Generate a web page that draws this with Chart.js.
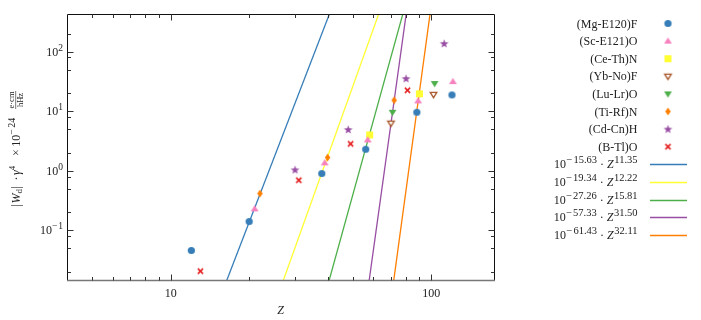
<!DOCTYPE html>
<html><head><meta charset="utf-8">
<script src="https://cdn.jsdelivr.net/npm/chart.js@4.4.1/dist/chart.umd.min.js"></script>
<style>html,body{margin:0;padding:0;background:#fff;}canvas{display:block;}</style>
</head><body>
<canvas id="c" width="701" height="320"></canvas>
<script>
// ---------------- data ----------------
const seriesNames = ['(Mg-E120)F','(Sc-E121)O','(Ce-Th)N','(Yb-No)F','(Lu-Lr)O','(Ti-Rf)N','(Cd-Cn)H','(B-Tl)O'];
const Z_MgF = [12, 20, 38, 56, 88, 120];
const W_MgF = [0.046, 0.141, 0.90, 2.30, 9.6, 18.8];
const Z_ScO = [21, 39, 57, 89, 121];
const W_ScO = [0.23, 1.36, 3.3, 14.9, 31.5];
const Z_CeN = [58, 90];
const W_CeN = [4.0, 19.6];
const Z_YbF = [70, 102];
const W_YbF = [6.3, 19.1];
const Z_LuO = [71, 103];
const W_LuO = [9.6, 29.2];
const Z_TiN = [22, 40, 72];
const W_TiN = [0.416, 1.67, 15.3];
const Z_CdH = [30, 48, 80, 112];
const W_CdH = [1.04, 4.93, 35.4, 137];
const Z_BO = [13, 31, 49, 81];
const W_BO = [0.0207, 0.695, 2.84, 22.5];

// fit lines: W = 10^a * Z^b
const fitLogPrefactor = [-15.63, -19.34, -27.26, -57.33, -61.43];
const fitExponent = [11.35, 12.22, 15.81, 31.50, 32.11];
const fitA_labels = ['15.63','19.34','27.26','57.33','61.43'];
const fitB_labels = ['11.35','12.22','15.81','31.50','32.11'];

// axes
const xRange = [4, 174];
const yRange = [0.0147, 429];
const xMajorTicks = [10, 100];
const xMajorLabels = ['10', '100'];
const xMinorTicks = [5, 6, 7, 8, 9, 20, 30, 40, 50, 60, 70, 80, 90];
const yMajorTicks = [0.1, 1, 10, 100];
const yMajorExps = ['−1', '0', '1', '2'];
const yMinorTicks = [0.02, 0.05, 0.08, 0.2, 0.5, 0.8, 2, 5, 8, 20, 50, 80, 200];

// ---------------- styles ----------------
const markerColors = ['#377eb8','#f781bf','#ffff33','#a65628','#4daf4a','#ff7f00','#984ea3','#e41a1c'];
const markerKinds = ['circle','triUp','square','triDownOpen','triDown','thinDiamond','star','cross'];
const lineColors = ['#377eb8','#ffff33','#4daf4a','#984ea3','#ff7f00'];

function makeMarker(kind, color) {
  const S = 15, c = document.createElement('canvas');
  c.width = S; c.height = S;
  const g = c.getContext('2d');
  const m = S / 2;
  g.fillStyle = color; g.strokeStyle = color;
  g.beginPath();
  if (kind === 'circle') {
    g.arc(m, m, 3.6, 0, Math.PI * 2); g.fill();
  } else if (kind === 'triUp') {
    g.moveTo(m, m - 3.8); g.lineTo(m + 3.9, m + 2.6); g.lineTo(m - 3.9, m + 2.6); g.closePath(); g.fill();
  } else if (kind === 'triDown') {
    g.moveTo(m, m + 3.8); g.lineTo(m + 3.9, m - 2.6); g.lineTo(m - 3.9, m - 2.6); g.closePath(); g.fill();
  } else if (kind === 'triDownOpen') {
    g.moveTo(m, m + 3.2); g.lineTo(m + 3.3, m - 2.2); g.lineTo(m - 3.3, m - 2.2); g.closePath();
    g.fillStyle = '#fff'; g.fill(); g.lineWidth = 1.3; g.stroke();
  } else if (kind === 'square') {
    g.rect(m - 3.5, m - 3.5, 7, 7); g.fill();
  } else if (kind === 'thinDiamond') {
    g.moveTo(m, m - 4); g.lineTo(m + 2.7, m); g.lineTo(m, m + 4); g.lineTo(m - 2.7, m); g.closePath(); g.fill();
  } else if (kind === 'star') {
    for (let i = 0; i < 10; i++) {
      const r = i % 2 === 0 ? 4.6 : 1.9;
      const a = -Math.PI / 2 + i * Math.PI / 5;
      const px = m + r * Math.cos(a), py = m + 0.4 + r * Math.sin(a);
      if (i === 0) g.moveTo(px, py); else g.lineTo(px, py);
    }
    g.closePath(); g.fill();
  } else if (kind === 'cross') {
    g.lineWidth = 1.5;
    g.moveTo(m - 2.6, m - 2.6); g.lineTo(m + 2.6, m + 2.6);
    g.moveTo(m + 2.6, m - 2.6); g.lineTo(m - 2.6, m + 2.6); g.stroke();
  }
  return c;
}
const markers = markerKinds.map((k, i) => makeMarker(k, markerColors[i]));

const Zs = [Z_MgF, Z_ScO, Z_CeN, Z_YbF, Z_LuO, Z_TiN, Z_CdH, Z_BO];
const Ws = [W_MgF, W_ScO, W_CeN, W_YbF, W_LuO, W_TiN, W_CdH, W_BO];

const datasets = [];
seriesNames.forEach((name, i) => {
  datasets.push({
    label: name,
    data: Zs[i].map((z, j) => ({ x: z, y: Ws[i][j] })),
    pointStyle: markers[i],
    pointRadius: 5,
    showLine: false
  });
});
fitExponent.forEach((b, i) => {
  const a = fitLogPrefactor[i];
  datasets.push({
    label: 'fit' + i,
    data: xRange.map(z => ({ x: z, y: Math.pow(10, a) * Math.pow(z, b) })),
    showLine: true,
    borderColor: lineColors[i],
    borderWidth: 1.3,
    pointRadius: 0,
    fill: false
  });
});

// ---------------- text helpers ----------------
const SERIF = "'Liberation Serif','DejaVu Serif',serif";
function fnt(size, it) { return (it ? 'italic ' : '') + size + 'px ' + SERIF; }
function segWidth(ctx, s) {
  if (s.frac) {
    ctx.font = fnt(s.size); return Math.max(ctx.measureText(s.num).width, ctx.measureText(s.den).width) + 2;
  }
  ctx.font = fnt(s.size, s.it); return ctx.measureText(s.t).width;
}
// segments drawn in sequence; s.at = absolute offset from start (optional), s.gap = extra space after
function drawSegs(ctx, segs, x, y, align, totalOverride) {
  let total = 0;
  segs.forEach(s => { s.w = segWidth(ctx, s); total += s.w + (s.gap || 0); });
  if (totalOverride) total = totalOverride;
  const start = align === 'right' ? x - total : align === 'center' ? x - total / 2 : x;
  let cx = start;
  ctx.textAlign = 'left'; ctx.textBaseline = 'alphabetic';
  segs.forEach(s => {
    if (s.at !== undefined) cx = start + s.at;
    if (s.frac) {
      ctx.font = fnt(s.size);
      const mid = cx + s.w / 2;
      const nw = ctx.measureText(s.num).width, dw = ctx.measureText(s.den).width;
      ctx.fillText(s.num, mid - nw / 2, y - 5.5);
      ctx.fillText(s.den, mid - dw / 2, y + 3.5);
      ctx.fillRect(cx + 0.5, y - 4, s.w - 1, 0.6);
    } else {
      ctx.font = fnt(s.size, s.it);
      ctx.fillText(s.t, cx, y + (s.dy || 0));
    }
    cx += s.w + (s.gap || 0);
  });
}

const decor = {
  id: 'decor',
  afterDraw(chart) {
    const ctx = chart.ctx, area = chart.chartArea;
    const xs = chart.scales.x, ys = chart.scales.y;
    ctx.save();
    ctx.fillStyle = '#222';
    // frame
    ctx.strokeStyle = '#111'; ctx.lineWidth = 1;
    const L = Math.round(area.left) + 0.5, R = Math.round(area.right) + 0.5;
    const T = Math.round(area.top) + 0.5, B = Math.round(area.bottom) + 0.5;
    ctx.beginPath();
    ctx.moveTo(L, B); ctx.lineTo(L, T); ctx.lineTo(R, T); ctx.lineTo(R, B); ctx.stroke();
    ctx.strokeStyle = '#777'; ctx.lineWidth = 1.5;
    ctx.beginPath(); ctx.moveTo(L - 0.5, B); ctx.lineTo(R + 0.5, B); ctx.stroke();
    // ticks
    ctx.strokeStyle = '#333'; ctx.lineWidth = 1;
    ctx.beginPath();
    const xt = (v, len) => { const p = Math.round(xs.getPixelForValue(v)) + 0.5;
      ctx.moveTo(p, B); ctx.lineTo(p, B - len); ctx.moveTo(p, T); ctx.lineTo(p, T + len); };
    const yt = (v, len) => { const p = Math.round(ys.getPixelForValue(v)) + 0.5;
      ctx.moveTo(L, p); ctx.lineTo(L + len, p); ctx.moveTo(R, p); ctx.lineTo(R - len, p); };
    xMajorTicks.forEach(v => xt(v, 6)); xMinorTicks.forEach(v => xt(v, 3.5));
    yMajorTicks.forEach(v => yt(v, 6)); yMinorTicks.forEach(v => yt(v, 3.5));
    ctx.stroke();
    // x tick labels
    ctx.font = fnt(12); ctx.textAlign = 'center'; ctx.textBaseline = 'alphabetic';
    xMajorTicks.forEach((v, i) => ctx.fillText(xMajorLabels[i], xs.getPixelForValue(v), 297));
    // y tick labels
    yMajorTicks.forEach((v, i) => {
      const p = ys.getPixelForValue(v);
      const e = yMajorExps[i];
      const segs = [{ t: '10', size: 12 }];
      if (e[0] === '−') { segs.push({ t: '−', size: 9.5, dy: -5, gap: 1 }); segs.push({ t: e.slice(1), size: 9.5, dy: -5 }); }
      else segs.push({ t: e, size: 9.5, dy: -5 });
      drawSegs(ctx, segs, 63, p + 4, 'right');
    });
    // x title
    ctx.font = fnt(12, true); ctx.textAlign = 'center';
    ctx.fillText('Z', (area.left + area.right) / 2, 314);
    // y title (rotated), laid out along 117 px
    ctx.save();
    ctx.translate(19.5, 148);
    ctx.rotate(-Math.PI / 2);
    drawSegs(ctx, [
      { t: '|', size: 12, at: 0, gap: 0.5 }, { t: 'W', size: 12, it: true }, { t: 'd', size: 9, dy: 2.5, gap: 0.5 }, { t: '|', size: 12 },
      { t: '·', size: 12, at: 26 }, { t: 'γ', size: 12, it: true, at: 31.5 }, { t: '4', size: 9, dy: -5 },
      { t: '×', size: 12, at: 50.5 }, { t: '10', size: 12, at: 59.7 }, { t: '−', size: 10, dy: -5, gap: 1.5 }, { t: '24', size: 10, dy: -5 },
      { frac: true, num: 'e·cm', den: 'hHz', size: 8.5, at: 97 }
    ], 0, 0, 'center', 117);
    ctx.restore();
    // legend
    const rowY = i => 23.5 + 17.6 * i;
    const textRight = 637.5, markX = 668;
    seriesNames.forEach((n, i) => {
      ctx.font = fnt(12); ctx.textAlign = 'right'; ctx.fillStyle = '#222';
      ctx.fillText(n, textRight, rowY(i) + 4);
      const m = markers[i];
      ctx.drawImage(m, markX - m.width / 2, rowY(i) - m.height / 2);
    });
    fitExponent.forEach((b, k) => {
      const y = rowY(8 + k);
      ctx.fillStyle = '#222';
      drawSegs(ctx, [{ t: '10', size: 12, gap: 0.5 }, { t: '−', size: 10.5, dy: -5, gap: 1 }, { t: fitA_labels[k], size: 10.5, dy: -5, gap: 3 },
        { t: '·', size: 12, gap: 3 },
        { t: 'Z', size: 12, it: true, gap: 0.5 }, { t: fitB_labels[k], size: 10.5, dy: -5 }], textRight, y + 4, 'right');
      ctx.strokeStyle = lineColors[k]; ctx.lineWidth = 1.5;
      ctx.beginPath(); ctx.moveTo(650, Math.round(y) + 0.5); ctx.lineTo(687, Math.round(y) + 0.5); ctx.stroke();
    });
    ctx.restore();
  }
};

new Chart(document.getElementById('c').getContext('2d'), {
  type: 'scatter',
  data: { datasets },
  options: {
    responsive: false,
    animation: false,
    devicePixelRatio: 1,
    events: [],
    layout: { padding: { left: 67, top: 14, right: 207, bottom: 40 } },
    plugins: { legend: { display: false }, tooltip: { enabled: false } },
    scales: {
      x: { type: 'logarithmic', min: xRange[0], max: xRange[1], display: false },
      y: { type: 'logarithmic', min: yRange[0], max: yRange[1], display: false }
    }
  },
  plugins: [decor]
});
</script>
</body></html>
